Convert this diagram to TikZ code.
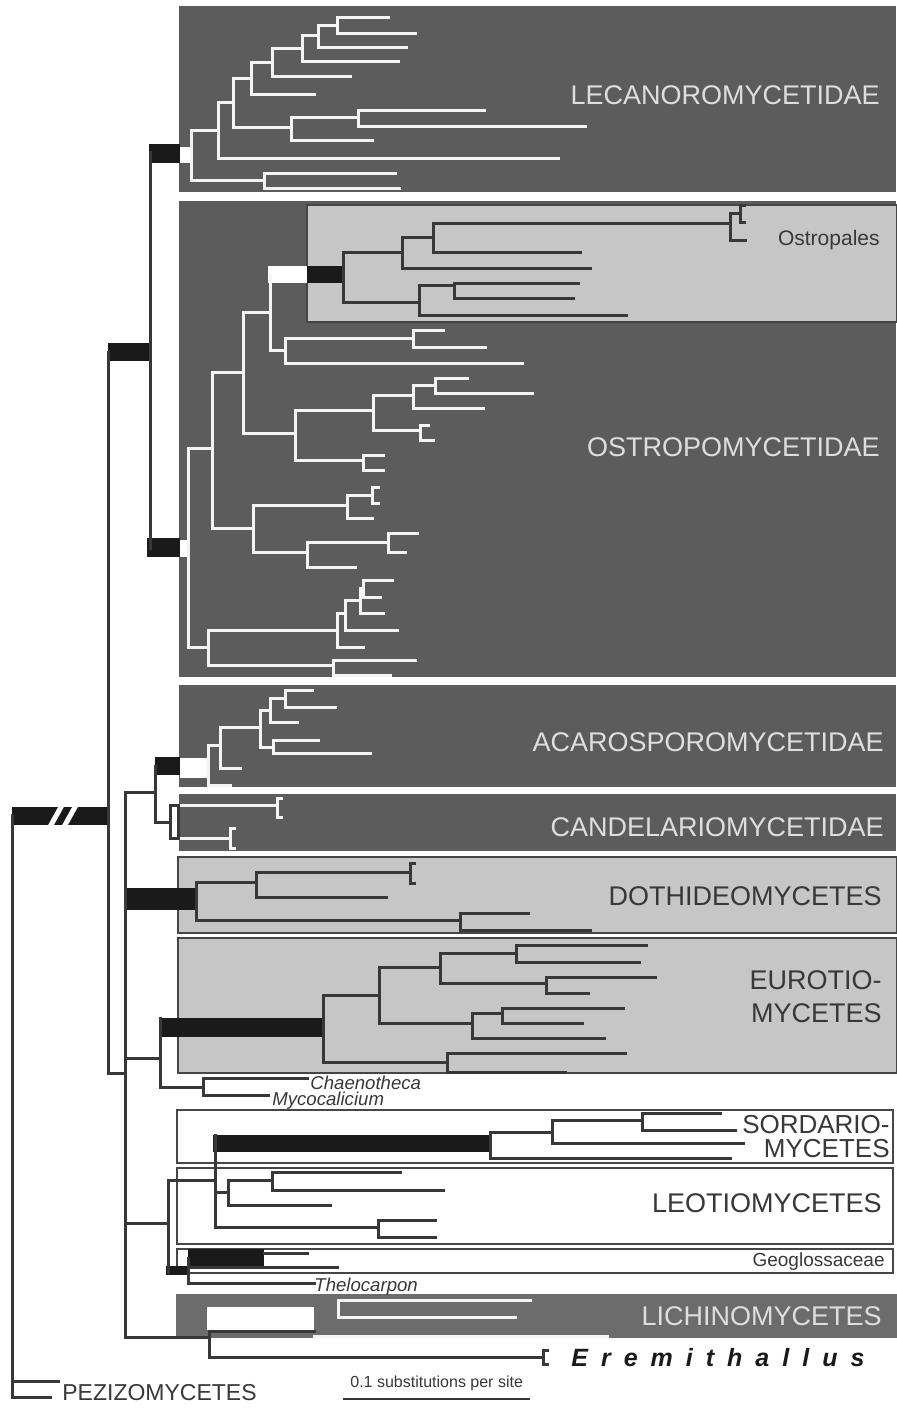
\documentclass[tikz,border=0pt]{standalone}
\usepackage{fontspec}
\setmainfont{Liberation Sans}
\newfontfamily\spacedfont[LetterSpace=52]{Liberation Sans}
\definecolor{dbox}{RGB}{92,92,92}
\definecolor{lbox}{RGB}{198,198,198}
\definecolor{lichbox}{RGB}{108,108,108}
\definecolor{tw}{RGB}{244,244,244}
\definecolor{td}{RGB}{56,56,56}
\definecolor{barc}{RGB}{26,26,26}
\definecolor{edge}{RGB}{70,70,70}
\definecolor{ltext}{RGB}{222,222,222}
\newcommand\HL[3]{\draw (#2,#1) -- (#3,#1);}
\newcommand\VL[3]{\draw (#1,#2) -- (#1,#3);}
\newcommand\BRK[3]{\draw ({#1+4},#2) -- (#1,#2) -- (#1,#3) -- ({#1+4},#3);}
\tikzset{
  wl/.style={color=tw,line width=1.5pt,line cap=rect},
  dl/.style={color=td,line width=1.5pt,line cap=rect},
  barbox/.style={fill=barc,draw=none},
  wbar/.style={fill=white,draw=none},
  darkbox/.style={fill=dbox,draw=white,line width=0.8pt},
  lightbox/.style={fill=lbox,draw=edge,line width=0.7pt},
  whitebox/.style={fill=white,draw=edge,line width=0.9pt},
  biglab/.style={inner sep=0pt,font=\fontsize{13.5}{15}\selectfont},
  midlab/.style={inner sep=0pt,font=\fontsize{10.5}{12}\selectfont,text=td},
  taxlab/.style={inner sep=0pt,font=\fontsize{9.3}{10}\selectfont\itshape,text=td,anchor=west},
}
\begin{document}
\begin{tikzpicture}[x=0.5pt,y=-0.5pt]
\useasboundingbox[fill=white] (0,0) rectangle (896,1409);
% ---------- boxes ----------
\path[darkbox] (178,5) rectangle (897,193);
\path[darkbox] (178,200) rectangle (897,678);
\path[lightbox] (307,205) rectangle (897,322);
\path[darkbox] (178,684) rectangle (897,788);
\path[darkbox] (178,793) rectangle (897,852);
\path[lightbox] (178,857) rectangle (897,933);
\path[lightbox] (178,938) rectangle (897,1073);
\path[whitebox] (177,1110) rectangle (893,1163);
\path[whitebox] (177,1168) rectangle (893,1244);
\path[whitebox] (177,1249) rectangle (893,1273);
\path[fill=lichbox] (176,1294) rectangle (897,1338);
% ---------- support bars ----------
\path[barbox] (149,144) rectangle (180,163);
\path[wbar] (180,147) rectangle (191,163);
\path[barbox] (108,343) rectangle (150,361);
\path[barbox] (147,538) rectangle (180,557);
\path[wbar] (180,540) rectangle (188,557);
\path[wbar] (268,266) rectangle (307,283);
\path[barbox] (307,266) rectangle (343,283);
\path[barbox] (155,757) rectangle (180,775);
\path[wbar] (180,758) rectangle (208,778);
\path[barbox] (125,888) rectangle (196,910);
\path[barbox] (160,1018) rectangle (323,1037);
\path[barbox] (213,1135) rectangle (492,1152);
\path[barbox] (188,1249) rectangle (264,1266);
\path[barbox] (166,1266) rectangle (188,1275);
\path[barbox] (12,807) rectangle (108,825);
\draw[white,line width=2.5pt] (46,834) -- (66,798);
\draw[white,line width=2.5pt] (60,834) -- (80,798);
\path[wbar] (207,1307) rectangle (314,1330);
% ---------- Lecanoromycetidae (white) ----------
\begin{scope}[wl]
\VL{191}{130}{180}\HL{130}{191}{218}\VL{218}{102}{158}\HL{158}{218}{558}
\HL{102}{218}{233}\VL{233}{78}{127}\HL{127}{233}{291}\VL{291}{117}{140}
\HL{140}{291}{372}\HL{117}{291}{358}\VL{358}{110}{126}\HL{110}{358}{484}
\HL{126}{358}{585}\HL{78}{233}{251}\VL{251}{62}{94}\HL{94}{251}{314}
\HL{62}{251}{272}\VL{272}{48}{76}\HL{76}{272}{350}\HL{48}{272}{302}
\VL{302}{35}{61}\HL{61}{302}{398}\HL{35}{302}{318}\VL{318}{25}{47}
\HL{47}{318}{406}\HL{25}{318}{337}\VL{337}{17}{33}\HL{17}{337}{388}
\HL{33}{337}{415}\HL{180}{191}{264}\VL{264}{173}{188}\HL{173}{264}{395}
\HL{188}{264}{399}
% ---------- Ostropomycetidae (white) ----------
\VL{188}{448}{647}\HL{448}{188}{212}\VL{212}{372}{528}
\HL{372}{212}{243}\VL{243}{312}{433}\HL{312}{243}{270}\VL{270}{275}{350}
\HL{350}{270}{285}\VL{285}{338}{363}\HL{338}{285}{413}\VL{413}{330}{347}
\HL{330}{413}{443}\HL{347}{413}{485}\HL{363}{285}{522}
\HL{433}{243}{295}\VL{295}{410}{460}\HL{410}{295}{373}\VL{373}{395}{430}
\HL{395}{373}{413}\VL{413}{385}{408}\HL{385}{413}{435}\VL{435}{378}{393}
\HL{378}{435}{467}\HL{393}{435}{532}\HL{408}{413}{483}\HL{430}{373}{420}
\VL{420}{425}{440}\HL{425}{420}{428}\HL{440}{420}{433}
\HL{460}{295}{363}\VL{363}{455}{470}\HL{455}{363}{383}\HL{470}{363}{383}
\HL{528}{212}{253}\VL{253}{505}{552}\HL{505}{253}{347}\VL{347}{495}{518}
\HL{495}{347}{372}\VL{372}{487}{503}\HL{487}{372}{378}\HL{503}{372}{378}
\HL{518}{347}{372}
\HL{552}{253}{307}\VL{307}{542}{567}\HL{542}{307}{388}\VL{388}{533}{552}
\HL{533}{388}{417}\HL{552}{388}{405}\HL{567}{307}{355}
\HL{647}{188}{208}\VL{208}{630}{665}\HL{630}{208}{337}\VL{337}{613}{647}
\HL{613}{337}{345}\VL{345}{600}{630}\HL{630}{345}{397}\HL{600}{345}{360}
\VL{360}{588}{613}\HL{613}{360}{383}\HL{588}{360}{363}\VL{363}{580}{597}
\HL{580}{363}{392}\HL{597}{363}{380}\HL{647}{337}{363}
\HL{665}{208}{333}\VL{333}{660}{675}\HL{660}{333}{415}\HL{675}{333}{390}
% ---------- Acarosporomycetidae ----------
\VL{208}{745}{785}\HL{785}{208}{230}\HL{745}{208}{220}\VL{220}{727}{768}
\HL{768}{220}{240}\HL{727}{220}{260}\VL{260}{710}{747}\HL{710}{260}{270}
\VL{270}{698}{722}\HL{698}{270}{285}\VL{285}{690}{707}\HL{690}{285}{312}
\HL{707}{285}{335}\HL{722}{270}{297}\HL{747}{260}{273}\VL{273}{740}{753}
\HL{740}{273}{318}\HL{753}{273}{370}
% ---------- Candelariomycetidae ----------
\HL{805}{178}{277}\BRK{277}{798}{817}
\HL{838}{178}{230}\BRK{230}{828}{848}
% ---------- Lichinomycetes ----------
\VL{338}{1300}{1317}\HL{1300}{338}{530}\HL{1317}{338}{515}
\HL{1336}{314}{607}
\end{scope}
% ---------- dark lines ----------
\begin{scope}[dl]
% backbone
\VL{12}{815}{1397}\HL{1381}{12}{58}\HL{1397}{12}{50}
\VL{108}{352}{1073}\HL{1073}{108}{125}
\VL{150}{152}{548}
\VL{125}{792}{1337}\HL{792}{125}{155}
\VL{155}{766}{822}\HL{822}{155}{170}
\VL{196}{882}{920}
\HL{1058}{125}{160}\VL{160}{1018}{1087}
\HL{1087}{160}{203}\VL{203}{1078}{1095}\HL{1078}{203}{307}\HL{1095}{203}{268}
\HL{1223}{125}{168}\VL{168}{1180}{1272}\HL{1180}{168}{215}\VL{215}{1135}{1227}
% Ostropales
\VL{343}{252}{302}\HL{252}{343}{402}\VL{402}{237}{268}\HL{237}{402}{433}
\VL{433}{223}{252}\HL{223}{433}{730}\VL{730}{213}{240}\HL{240}{730}{745}
\HL{213}{730}{740}\BRK{740}{205}{222}\HL{252}{433}{580}\HL{268}{402}{590}
\HL{302}{343}{419}\VL{419}{285}{315}\HL{285}{419}{454}\VL{454}{283}{298}
\HL{283}{454}{578}\HL{298}{454}{573}\HL{315}{419}{626}
% Dothideomycetes
\HL{882}{196}{256}\VL{256}{872}{897}\HL{872}{256}{410}\BRK{410}{863}{883}
\HL{897}{256}{386}\HL{920}{196}{460}\VL{460}{913}{930}\HL{913}{460}{528}
\HL{930}{460}{590}
% Eurotiomycetes
\VL{323}{995}{1062}\HL{995}{323}{379}\VL{379}{967}{1023}\HL{967}{379}{440}
\VL{440}{953}{983}\HL{953}{440}{516}\VL{516}{945}{962}\HL{945}{516}{646}
\HL{962}{516}{639}\HL{983}{440}{546}\VL{546}{977}{993}\HL{977}{546}{655}
\HL{993}{546}{588}\HL{1023}{379}{472}\VL{472}{1013}{1038}\HL{1013}{472}{502}
\VL{502}{1008}{1023}\HL{1008}{502}{623}\HL{1023}{502}{582}\HL{1038}{472}{604}
\HL{1062}{323}{447}\VL{447}{1053}{1072}\HL{1053}{447}{625}\HL{1072}{447}{565}
% Sordariomycetes
\VL{490}{1132}{1158}\HL{1132}{490}{552}\VL{552}{1120}{1143}\HL{1120}{552}{642}
\VL{642}{1113}{1130}\HL{1113}{642}{720}\HL{1130}{642}{735}\HL{1143}{552}{743}
\HL{1158}{490}{730}
% Leotiomycetes
\HL{1192}{215}{228}\VL{228}{1180}{1205}\HL{1180}{228}{272}\VL{272}{1172}{1190}
\HL{1172}{272}{400}\HL{1190}{272}{443}\HL{1205}{228}{330}
\HL{1227}{215}{378}\VL{378}{1220}{1237}\HL{1220}{378}{435}\HL{1237}{378}{435}
% Geoglossaceae, Thelocarpon
\VL{188}{1258}{1283}\HL{1253}{264}{307}\HL{1267}{188}{337}\HL{1283}{188}{314}
% Lichinomycetes, Eremithallus
\HL{1337}{125}{209}\VL{209}{1331}{1357}\HL{1357}{209}{543}\BRK{543}{1350}{1364}
\HL{1331}{209}{314}
\end{scope}
\draw[fill=white,draw=td,line width=1.5pt] (170,805) rectangle (178,838);
% ---------- labels ----------
\node[biglab,text=ltext,anchor=east] (lec) at (880,95) {LECANOROMYCETIDAE};
\node[biglab,text=ltext,anchor=east] (ostm) at (880,447) {OSTROPOMYCETIDAE};
\node[midlab,anchor=east] (ostp) at (880,240) {Ostropales};
\node[biglab,text=ltext,anchor=east] (aca) at (884,742) {ACAROSPOROMYCETIDAE};
\node[biglab,text=ltext,anchor=east] (can) at (884,827) {CANDELARIOMYCETIDAE};
\node[biglab,text=td,anchor=east] (dot) at (882,896) {DOTHIDEOMYCETES};
\node[biglab,text=td,anchor=east,align=right,font=\fontsize{13.5}{16.5}\selectfont] (eur) at (882,997) {EUROTIO-\\MYCETES};
\node[biglab,text=td,anchor=east,align=right,font=\fontsize{13}{12}\selectfont] (sor) at (890,1137) {SORDARIO-\\MYCETES};
\node[biglab,text=td,anchor=east] (leo) at (882,1203) {LEOTIOMYCETES};
\node[midlab,anchor=east,font=\fontsize{9.5}{11}\selectfont] (geo) at (885,1262) {Geoglossaceae};
\node[biglab,text=ltext,anchor=east] (lic) at (882,1316) {LICHINOMYCETES};
\node[inner sep=0pt,anchor=west,text=barc,font=\fontsize{12.5}{14}\spacedfont\bfseries\itshape] (ere) at (571,1358) {Eremithallus};
\node[taxlab] (cha) at (310,1083) {Chaenotheca};
\node[taxlab] (myc) at (272,1101) {Mycocalicium};
\node[taxlab] (the) at (314,1287) {Thelocarpon};
\node[biglab,text=td,anchor=west,font=\fontsize{11.5}{13}\selectfont] (pez) at (62,1393) {PEZIZOMYCETES};
\node[inner sep=0pt,anchor=west,text=td,font=\fontsize{8}{9}\selectfont] (scl) at (350,1383) {0.1 substitutions per site};
\draw[td,line width=0.8pt] (343,1399) -- (530,1399);
\end{tikzpicture}
\end{document}
